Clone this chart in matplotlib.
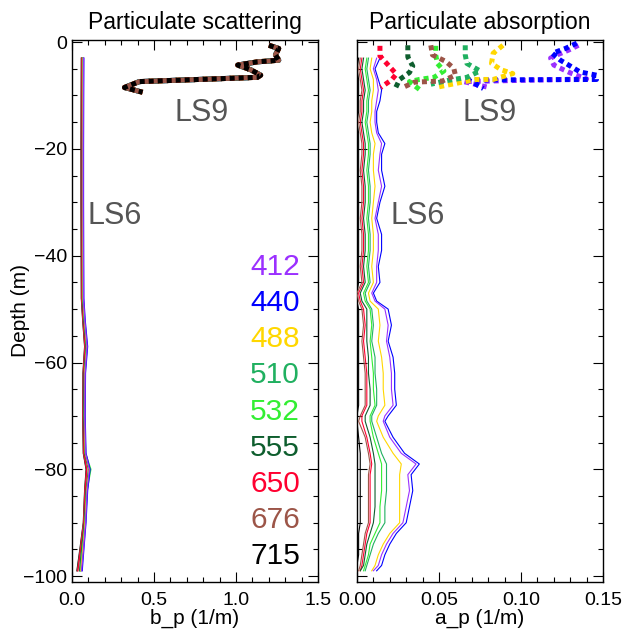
import matplotlib
matplotlib.use("Agg")
import matplotlib.pyplot as plt
from matplotlib.ticker import MultipleLocator

plt.rcParams['font.family'] = ['Liberation Sans', 'DejaVu Sans']

# wavelengths (nm) and their colours
bands = ['412', '440', '488', '510', '532', '555', '650', '676', '715']
colors = ['#9b30ff', '#0000ff', '#ffd700', '#20b060', '#33ee33',
          '#0e5e2e', '#ff0030', '#9c5548', '#000000']

# --- LS6 particulate scattering (m, positive down) ---
ls6_bp_depth = [3, 10, 20, 30, 40, 48, 52, 57, 62, 70, 77, 80, 84, 90, 95, 99]
ls6_bp = {
    '412': [0.070, 0.069, 0.068, 0.068, 0.069, 0.070, 0.078, 0.092, 0.080, 0.078, 0.083, 0.106, 0.092, 0.083, 0.070, 0.058],
    '440': [0.072, 0.071, 0.070, 0.070, 0.071, 0.072, 0.080, 0.095, 0.082, 0.080, 0.085, 0.110, 0.095, 0.085, 0.072, 0.062],
    '488': [0.068, 0.067, 0.066, 0.066, 0.067, 0.068, 0.076, 0.090, 0.078, 0.076, 0.081, 0.104, 0.090, 0.080, 0.066, 0.054],
    '510': [0.066, 0.065, 0.064, 0.064, 0.065, 0.066, 0.074, 0.088, 0.076, 0.074, 0.080, 0.108, 0.088, 0.078, 0.062, 0.050],
    '532': [0.068, 0.067, 0.066, 0.066, 0.067, 0.068, 0.077, 0.092, 0.079, 0.077, 0.083, 0.115, 0.092, 0.082, 0.065, 0.052],
    '555': [0.064, 0.063, 0.062, 0.062, 0.063, 0.064, 0.072, 0.086, 0.074, 0.072, 0.077, 0.100, 0.086, 0.076, 0.058, 0.046],
    '650': [0.060, 0.059, 0.058, 0.058, 0.059, 0.060, 0.068, 0.080, 0.070, 0.068, 0.072, 0.090, 0.080, 0.072, 0.052, 0.036],
    '676': [0.058, 0.057, 0.056, 0.056, 0.057, 0.058, 0.066, 0.078, 0.068, 0.066, 0.070, 0.088, 0.078, 0.070, 0.050, 0.032],
    '715': [0.057, 0.056, 0.055, 0.055, 0.056, 0.057, 0.065, 0.077, 0.067, 0.065, 0.069, 0.086, 0.077, 0.069, 0.048, 0.030],
}

# --- LS9 particulate scattering (all bands nearly identical) ---
ls9_bp_depth = [0.6, 1.2, 2.4, 3.4, 3.7, 4.3, 5.2, 6.2, 6.6, 7.4, 8.5, 9.4]
ls9_bp = [1.20, 1.26, 1.24, 1.26, 1.13, 1.01, 1.09, 1.15, 1.13, 0.41, 0.32, 0.43]

# --- LS6 particulate absorption ---
ls6_ap_depth = [3, 5, 7, 9, 11, 13, 15, 17, 19, 21,
                24, 27, 30, 33, 36, 39, 42, 45,
                47, 48.5, 50, 53, 56, 59, 62, 65, 68, 70,
                71, 74, 77, 79, 81, 84, 87, 90, 92, 94,
                96, 98, 99]
ls6_ap = {
    '412': [0.012, 0.010, 0.012, 0.013, 0.012, 0.011, 0.011, 0.012, 0.015, 0.014,
            0.013, 0.015, 0.013, 0.011, 0.013, 0.013, 0.012, 0.012,
            0.009, 0.011, 0.017, 0.019, 0.018, 0.020, 0.021, 0.021, 0.022, 0.017,
            0.016, 0.020, 0.027, 0.036, 0.031, 0.032, 0.030, 0.028, 0.022, 0.018,
            0.015, 0.013, 0.010],
    '440': [0.014, 0.011, 0.013, 0.015, 0.014, 0.012, 0.012, 0.013, 0.017, 0.015,
            0.015, 0.017, 0.014, 0.012, 0.015, 0.015, 0.013, 0.014,
            0.010, 0.012, 0.019, 0.021, 0.019, 0.022, 0.023, 0.023, 0.024, 0.019,
            0.017, 0.022, 0.029, 0.038, 0.033, 0.034, 0.032, 0.030, 0.024, 0.020,
            0.017, 0.015, 0.012],
    '488': [0.009, 0.008, 0.010, 0.010, 0.009, 0.009, 0.008, 0.009, 0.011, 0.010,
            0.010, 0.011, 0.010, 0.009, 0.010, 0.010, 0.009, 0.010,
            0.007, 0.008, 0.013, 0.014, 0.013, 0.015, 0.016, 0.016, 0.017, 0.013,
            0.012, 0.016, 0.022, 0.027, 0.026, 0.026, 0.026, 0.026, 0.020, 0.016,
            0.013, 0.011, 0.009],
    '510': [0.007, 0.006, 0.007, 0.008, 0.007, 0.007, 0.006, 0.007, 0.008, 0.008,
            0.007, 0.008, 0.008, 0.007, 0.008, 0.008, 0.007, 0.008,
            0.005, 0.006, 0.009, 0.010, 0.009, 0.011, 0.011, 0.012, 0.012, 0.009,
            0.009, 0.012, 0.015, 0.018, 0.018, 0.018, 0.017, 0.017, 0.013, 0.010,
            0.008, 0.006, 0.005],
    '532': [0.006, 0.005, 0.006, 0.007, 0.006, 0.006, 0.005, 0.006, 0.007, 0.007,
            0.006, 0.007, 0.007, 0.006, 0.007, 0.007, 0.006, 0.007,
            0.004, 0.005, 0.008, 0.009, 0.008, 0.009, 0.010, 0.010, 0.011, 0.008,
            0.008, 0.010, 0.013, 0.015, 0.015, 0.015, 0.014, 0.014, 0.011, 0.008,
            0.007, 0.005, 0.004],
    '555': [0.004, 0.003, 0.004, 0.005, 0.004, 0.004, 0.003, 0.004, 0.005, 0.005,
            0.004, 0.005, 0.005, 0.004, 0.005, 0.005, 0.004, 0.005,
            0.002, 0.003, 0.006, 0.006, 0.006, 0.007, 0.007, 0.008, 0.008, 0.005,
            0.005, 0.008, 0.010, 0.011, 0.011, 0.011, 0.011, 0.010, 0.008, 0.006,
            0.005, 0.004, 0.002],
    '650': [0.003, 0.002, 0.003, 0.004, 0.003, 0.003, 0.002, 0.003, 0.004, 0.004,
            0.003, 0.004, 0.004, 0.003, 0.004, 0.004, 0.003, 0.004,
            0.001, 0.002, 0.004, 0.005, 0.004, 0.005, 0.006, 0.006, 0.006, 0.003,
            0.003, 0.006, 0.008, 0.009, 0.008, 0.008, 0.008, 0.008, 0.006, 0.005,
            0.004, 0.003, 0.002],
    '676': [0.002, 0.001, 0.002, 0.003, 0.002, 0.002, 0.001, 0.002, 0.003, 0.003,
            0.002, 0.003, 0.003, 0.002, 0.003, 0.003, 0.002, 0.003,
            0.000, 0.001, 0.003, 0.004, 0.003, 0.004, 0.005, 0.005, 0.005, 0.002,
            0.001, 0.005, 0.007, 0.008, 0.007, 0.007, 0.007, 0.007, 0.005, 0.004,
            0.003, 0.002, 0.001],
    '715': [0.001, 0.000, 0.001, 0.001, 0.001, 0.001, 0.000, 0.001, 0.001, 0.001,
            0.001, 0.001, 0.001, 0.001, 0.001, 0.001, 0.001, 0.001,
            0.000, 0.000, 0.001, 0.001, 0.001, 0.001, 0.001, 0.001, 0.001, 0.000,
            0.000, 0.001, 0.002, 0.002, 0.002, 0.002, 0.002, 0.002, 0.001, 0.001,
            0.001, 0.000, 0.000],
}

# --- LS9 particulate absorption, each band read separately ---
ls9_ap_depth = {
    '412': [0.6, 1.5, 2.4, 3.0, 4.3, 5.2, 5.9, 6.9, 7.4, 8.4],
    '440': [0.2, 1.2, 2.1, 3.4, 4.3, 5.6, 6.2, 7.0, 7.1, 8.7],
    '488': [0.6, 2.1, 4.0, 5.2, 5.9, 7.0, 7.0, 7.2, 8.5],
    '510': [0.6, 2.4, 4.0, 5.4, 6.6, 7.2, 7.9],
    '532': [0.7, 2.4, 4.0, 5.4, 6.6, 7.0, 7.4, 9.1],
    '555': [0.6, 2.8, 4.5, 5.7, 7.0, 8.9],
    '650': [0.7, 2.6, 4.3, 6.0, 7.1, 8.5],
    '676': [0.6, 2.4, 3.6, 4.9, 6.2, 7.3, 7.5, 8.5],
    '715': [],
}
ls9_ap = {
    '412': [0.135, 0.129, 0.122, 0.118, 0.120, 0.126, 0.131, 0.140, 0.065, 0.079],
    '440': [0.134, 0.127, 0.119, 0.124, 0.129, 0.136, 0.146, 0.146, 0.068, 0.077],
    '488': [0.089, 0.083, 0.082, 0.088, 0.095, 0.083, 0.073, 0.069, 0.048],
    '510': [0.066, 0.066, 0.067, 0.075, 0.067, 0.055, 0.045],
    '532': [0.048, 0.048, 0.049, 0.053, 0.047, 0.038, 0.032, 0.039],
    '555': [0.031, 0.031, 0.034, 0.032, 0.026, 0.023],
    '650': [0.014, 0.014, 0.019, 0.024, 0.021, 0.0145],
    '676': [0.045, 0.046, 0.054, 0.059, 0.060, 0.052, 0.035, 0.028],
    '715': [],
}

fig = plt.figure(figsize=(6.23, 6.34), dpi=100)
ax1 = fig.add_axes([0.1156, 0.082, 0.395, 0.855])
ax2 = fig.add_axes([0.573, 0.082, 0.395, 0.855])

n = len(bands)
for i, (b, c) in enumerate(zip(bands, colors)):
    # thin LS6 lines: short wavelengths drawn on top
    ax1.plot(ls6_bp[b], [-d for d in ls6_bp_depth], color=c, lw=0.9, zorder=2 + n - i)
    ax1.plot(ls9_bp, [-d for d in ls9_bp_depth], color=c, lw=3.6,
             linestyle=((i % 2) * 1.0, (1, 0.8)), zorder=20 + i)
    ax2.plot(ls6_ap[b], [-d for d in ls6_ap_depth], color=c, lw=0.8, zorder=2 + n - i)
    if ls9_ap[b]:
        ax2.plot(ls9_ap[b], [-d for d in ls9_ap_depth[b]], color=c, lw=3.6,
                 linestyle=(0, (1, 0.8)), zorder=20 + i)

for ax in (ax1, ax2):
    ax.set_ylim(-101.1, 0.4)
    ax.yaxis.set_major_locator(MultipleLocator(20))
    ax.yaxis.set_minor_locator(MultipleLocator(5))
    ax.tick_params(which='both', direction='in', top=True, right=True,
                   labelsize=14, width=0.8)
    ax.tick_params(which='major', length=7)
    ax.tick_params(which='minor', length=3.5)
    ax.tick_params(axis='x', pad=7)
    for s in ax.spines.values():
        s.set_linewidth(1.0)

ax1.set_xlim(0, 1.5)
ax1.xaxis.set_major_locator(MultipleLocator(0.5))
ax1.xaxis.set_minor_locator(MultipleLocator(0.1))
ax1.xaxis.set_major_formatter(plt.FormatStrFormatter('%.1f'))
ax1.set_xlabel('b_p (1/m)', fontsize=15, labelpad=0)
ax1.set_ylabel('Depth (m)', fontsize=15)
ax1.yaxis.set_label_coords(-0.17, 0.5)
ax1.set_title('Particulate scattering', fontsize=16.5, pad=8)

ax2.set_xlim(0, 0.15)
ax2.xaxis.set_major_locator(MultipleLocator(0.05))
ax2.xaxis.set_minor_locator(MultipleLocator(0.01))
ax2.xaxis.set_major_formatter(plt.FormatStrFormatter('%.2f'))
ax2.set_yticklabels([])
ax2.set_xlabel('a_p (1/m)', fontsize=15, labelpad=0)
ax2.set_title('Particulate absorption', fontsize=16.5, pad=8)

gray = '#555555'
ax1.text(0.79, -13.3, 'LS9', fontsize=22, color=gray, ha='center', va='center')
ax1.text(0.26, -32.6, 'LS6', fontsize=22, color=gray, ha='center', va='center')
ax2.text(0.081, -13.3, 'LS9', fontsize=22, color=gray, ha='center', va='center')
ax2.text(0.037, -32.6, 'LS6', fontsize=22, color=gray, ha='center', va='center')

# wavelength labels stacked in the left panel
for i, (b, c) in enumerate(zip(bands, colors)):
    ax1.text(1.39, -42.1 - i * 6.77, b, fontsize=21.5, color=c,
             ha='right', va='center')

fig.savefig('out.png', dpi=100, facecolor='white')
